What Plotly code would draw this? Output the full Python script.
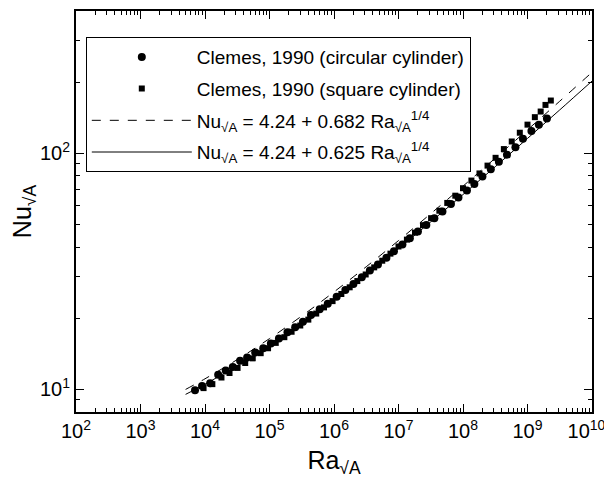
import plotly.graph_objects as go

# ---- data ----
circ_ra = [7.0e3, 9.0e3, 1.2e4, 1.6e4, 2.1e4, 2.7e4, 3.5e4, 4.5e4, 6.0e4, 8.0e4,
           1.05e5, 1.4e5, 1.9e5, 2.5e5, 3.3e5, 4.4e5, 6.0e5, 8.0e5, 1.1e6, 1.5e6,
           2.0e6, 2.7e6, 3.6e6, 4.8e6, 6.5e6, 8.5e6, 1.15e7, 1.5e7, 2.0e7, 2.7e7,
           3.6e7, 4.8e7, 6.5e7, 8.5e7, 1.15e8, 1.5e8, 2.0e8, 2.7e8, 3.6e8, 4.8e8,
           6.5e8, 8.5e8, 1.15e9, 1.5e9, 2.0e9]
circ_nu = [9.9, 10.3, 10.6, 11.5, 12.0, 12.4, 13.2, 13.6, 14.3, 14.9,
           15.6, 16.4, 17.4, 18.3, 19.3, 20.6, 21.8, 23.0, 24.6, 26.3,
           27.9, 29.8, 31.8, 33.7, 36.0, 38.4, 41.0, 43.6, 46.5, 49.6,
           53.0, 56.6, 60.8, 64.8, 69.5, 74.0, 79.5, 85.5, 92.0, 98.5,
           106.0, 115.0, 124.0, 132.0, 140.0]

sq_ra = [9.5e3, 1.3e4, 1.8e4, 2.4e4, 3.2e4, 4.2e4, 5.5e4, 7.3e4, 9.5e4, 1.25e5,
         1.7e5, 2.2e5, 3.0e5, 4.0e5, 5.3e5, 7.0e5, 9.5e5, 1.3e6, 1.75e6, 2.3e6,
         3.1e6, 4.2e6, 5.6e6, 7.5e6, 1.0e7, 1.35e7, 1.8e7, 2.4e7, 3.2e7, 4.3e7,
         5.7e7, 7.6e7, 1.0e8, 1.35e8, 1.8e8, 2.4e8, 3.2e8, 4.3e8, 5.7e8, 7.6e8,
         1.0e9, 1.3e9, 1.6e9, 1.9e9, 2.3e9]
sq_nu = [10.1, 10.5, 11.2, 11.7, 12.3, 12.9, 13.5, 14.2, 14.9, 15.7,
         16.6, 17.5, 18.6, 19.7, 20.9, 22.2, 23.6, 25.3, 27.0, 28.7,
         30.6, 32.8, 35.0, 37.5, 40.2, 43.0, 46.0, 49.5, 53.0, 57.0,
         61.5, 66.0, 71.0, 76.5, 82.0, 88.5, 95.5, 104.0, 112.0, 122.0,
         132.0, 142.0, 150.0, 160.0, 167.0]

# correlation curves, values at these Ra
line_ra = [5e3, 1e4, 3.16e4, 1e5, 3.16e5, 1e6, 3.16e6, 1e7, 3.16e7, 1e8,
           3.16e8, 1e9, 3.16e9, 1e10]
dash_nu = [9.97, 11.06, 13.34, 16.37, 20.41, 25.81, 33.00, 42.59, 55.38, 72.44,
           95.17, 125.5, 165.9, 219.9]
solid_nu = [9.50, 10.49, 12.58, 15.35, 19.06, 24.00, 30.60, 39.40, 51.10, 66.74,
            87.57, 115.4, 152.4, 201.9]

x_tickvals = [1e2, 1e3, 1e4, 1e5, 1e6, 1e7, 1e8, 1e9, 1e10]
x_ticktext = ["10<sup>2</sup>", "10<sup>3</sup>", "10<sup>4</sup>", "10<sup>5</sup>",
              "10<sup>6</sup>", "10<sup>7</sup>", "10<sup>8</sup>", "10<sup>9</sup>",
              "10<sup>10</sup>\u00a0\u00a0"]
y_tickvals = [10, 100]
y_ticktext = ["10<sup>1</sup>", "10<sup>2</sup>"]

x_minor = [k * 10 ** n for n in range(2, 10) for k in range(2, 10)]
y_minor = [8, 9] + [k * 10 for k in range(2, 10)] + [200, 300, 400]

FONT = "Liberation Sans, Arial, Helvetica, sans-serif"

fig = go.Figure()
fig.add_trace(go.Scatter(x=circ_ra, y=circ_nu, mode="markers", legendgroup="a",
                         marker=dict(symbol="circle", size=8, color="black"),
                         name="Clemes, 1990 (circular cylinder)"))
fig.add_trace(go.Scatter(x=sq_ra, y=sq_nu, mode="markers", legendgroup="b",
                         marker=dict(symbol="square", size=6, color="black"),
                         name="Clemes, 1990 (square cylinder)"))
fig.add_trace(go.Scatter(x=line_ra, y=dash_nu, mode="lines", legendgroup="c",
                         line=dict(color="black", width=1, dash="dash", shape="spline"),
                         name="Nu<sub>√A</sub> = 4.24 + 0.682 Ra<sub>√A</sub><sup>1/4</sup>"))
fig.add_trace(go.Scatter(x=line_ra, y=solid_nu, mode="lines", legendgroup="d",
                         line=dict(color="black", width=1, shape="spline"),
                         name="Nu<sub>√A</sub> = 4.24 + 0.625 Ra<sub>√A</sub><sup>1/4</sup>"))

axis_common = dict(type="log", showgrid=False, zeroline=False, showline=True,
                   linecolor="black", linewidth=2, mirror="ticks", ticks="inside",
                   ticklen=8, tickwidth=1, tickcolor="black", automargin=False,
                   tickfont=dict(size=20, family=FONT, color="black"))

fig.update_xaxes(**axis_common, range=[2, 10], tickvals=x_tickvals, ticktext=x_ticktext,
                 minor=dict(tickvals=x_minor, ticks="inside", ticklen=4, tickcolor="black"),
                 title=dict(text="Ra<sub>√A</sub>", font=dict(size=25, family=FONT, color="black"),
                            standoff=10))
fig.update_yaxes(**axis_common, range=[0.90309, 2.60206], tickvals=y_tickvals, ticktext=y_ticktext,
                 minor=dict(tickvals=y_minor, ticks="inside", ticklen=4, tickcolor="black"),
                 title=dict(text="Nu<sub>√A</sub>", font=dict(size=25, family=FONT, color="black"),
                            standoff=8))

fig.update_layout(
    width=612, height=480,
    margin=dict(l=68, r=28, t=3, b=76),
    plot_bgcolor="white", paper_bgcolor="white",
    font=dict(family=FONT, color="black"),
    legend=dict(x=0.019, y=0.935, xanchor="left", yanchor="top",
                bgcolor="white", bordercolor="black", borderwidth=1,
                font=dict(size=19, family=FONT, color="black"),
                itemwidth=100, tracegroupgap=4),
)

fig.write_html("out.html")
